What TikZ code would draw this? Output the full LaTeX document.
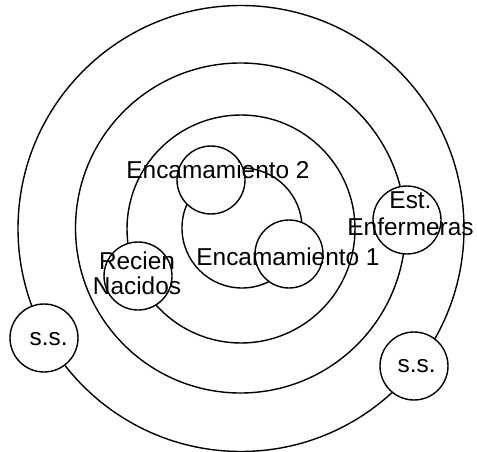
\documentclass[tikz,border=0pt]{standalone}
\usepackage{fontspec}
\setmainfont{Liberation Sans}
\usetikzlibrary{positioning}

\begin{document}
\begin{tikzpicture}[
    x=1pt, y=-1pt,
    ring/.style={circle, draw, line width=1.4pt, inner sep=0pt},
    room/.style={circle, draw, fill=white, line width=1.4pt, inner sep=0pt, minimum size=68pt},
    tag/.style={font=\fontsize{24.4}{25}\selectfont, inner sep=0pt, align=center, anchor=base},
]
  \useasboundingbox (0,0) rectangle (477,452);

  % anillos concentricos
  \node[ring, minimum size=446pt] (outer) at (241,228.5) {};
  \node[ring, minimum size=330pt] (middle) at (240.5,228) {};
  \node[ring, minimum size=228pt] (inner) at (241,229) {};
  \node[ring, minimum size=120pt] (core) at (242,228) {};

  % areas
  \node[room] (enc2) at (211,180) {};
  \node[room] (enc1) at (289,254) {};
  \node[room] (recien) at (138,276) {};
  \node[room] (enf) at (407,220) {};
  \node[room] (ssl) at (44,338) {};
  \node[room] (ssr) at (414,366) {};

  % textos
  \node[tag] (enc2txt) at (218,178) {Encamamiento 2};
  \node[tag] (enc1txt) at (288,265) {Encamamiento 1};
  \node[tag] (reciensize) at (137,294) {Recien\\Nacidos};
  \node[tag] (enftxt) at (410.5,235) {Est.\\[2pt]Enfermeras};
  \node[tag] (ssltxt) at (48.7,345) {s.s.};
  \node[tag] (ssrtxt) at (416.7,372) {s.s.};
\end{tikzpicture}
\end{document}
